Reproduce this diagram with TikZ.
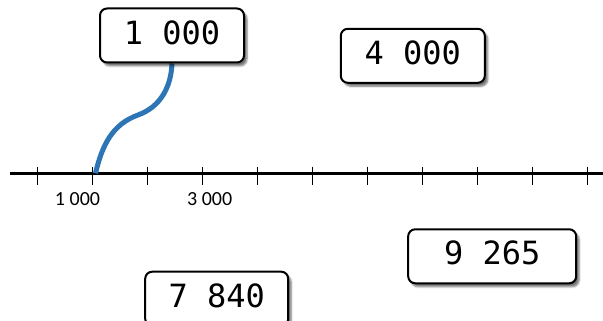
\documentclass[tikz,border=0pt]{standalone}
\usepackage{fontspec}
\newfontfamily\numfont{DejaVu Sans Mono}
\newfontfamily\axfont{Carlito}
\usetikzlibrary{shadows.blur,backgrounds}
\definecolor{lineblue}{RGB}{46,117,182}
\tikzset{
  numbox/.style={draw, line width=2pt, rounded corners=7pt, fill=white,
    font=\numfont\fontsize{32}{38}\selectfont, minimum width=144pt,
    minimum height=54pt, inner sep=0pt, text height=23.3pt, text depth=6pt,
    blur shadow={shadow xshift=3pt, shadow yshift=-3.5pt, shadow blur steps=6, shadow opacity=55}},
  axlabel/.style={font=\axfont\fontsize{20}{24}\selectfont, inner sep=0pt},
  axisline/.style={line width=3pt},
  tickline/.style={line width=1.3pt},
  link/.style={line width=5pt, draw=lineblue}
}
\begin{document}
\begin{tikzpicture}[x=1pt,y=-1pt]
\useasboundingbox (0,0) rectangle (603,321);
% boxes
\node[numbox] (b1000) at (172,35.5) {1 000};
\node[numbox] (b4000) at (412.8,55.8) {4 000};
\node[numbox, minimum width=168pt] (b9265) at (492.2,256.3) {9 265};
\node[numbox, minimum width=143pt] (b7840) at (216.7,298.7) {7 840};
% axis labels
\node[axlabel] (l1000) at (77.5,199.2) {1 000};
\node[axlabel] (l3000) at (209.7,199.2) {3 000};
% axis
\coordinate (axL) at (10,173.3);
\coordinate (axR) at (603,173.3);
\coordinate (p1000) at (95.5,173.3);
\coordinate (bend) at (138,115);
\begin{scope}[on background layer]
\draw[axisline] (axL) -- (axR);
\foreach \i in {0,...,10}{
  \draw[tickline] (37.7+55*\i,166.7) -- ++(0,18.3);
}
\draw[link] (p1000) .. controls (102,146) and (111.7,124.5) .. (bend)
  .. controls (160.6,106.8) and (171,87) .. (b1000.south);
\end{scope}
\end{tikzpicture}
\end{document}
